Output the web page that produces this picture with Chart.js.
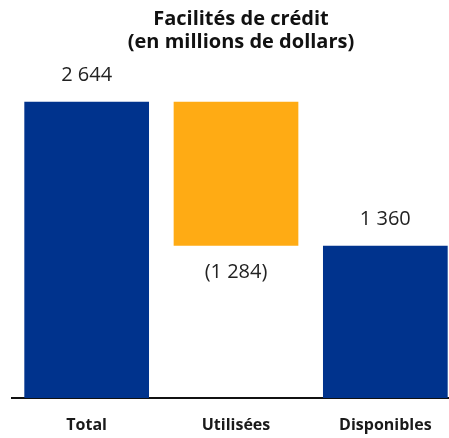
<!DOCTYPE html>
<html>
<head>
<meta charset="utf-8">
<script src="https://cdn.jsdelivr.net/npm/chart.js@4"></script>
<style>
  body { margin: 0; overflow: hidden; background: #fff; }
  #wrap { width: 449px; height: 438px; overflow: hidden; }
</style>
</head>
<body>
<div id="wrap"><canvas id="chart" width="460" height="438"></canvas></div>
<script>
const categories = ['Total', 'Utilisées', 'Disponibles']
const values = [2644, -1284, 1360]
const valueLabels = ['2 644', '(1 284)', '1 360']
const titleLines = ['Facilités de crédit', '(en millions de dollars)']
const colors = ['#00338D', '#FFAB14', '#00338D']

// floating bars for the waterfall
const ranges = [
  [0, values[0]],
  [values[0] + values[1], values[0]],
  [0, values[2]]
]

const labelPlugin = {
  id: 'labels',
  afterDatasetsDraw(chart) {
    const ctx = chart.ctx
    const meta = chart.getDatasetMeta(0)
    ctx.save()
    ctx.fillStyle = '#222'
    ctx.font = '20px "Open Sans"'
    ctx.textAlign = 'center'
    meta.data.forEach((bar, i) => {
      const top = Math.min(bar.y, bar.base)
      const bottom = Math.max(bar.y, bar.base)
      if (values[i] < 0) {
        ctx.textBaseline = 'top'
        ctx.fillText(valueLabels[i], bar.x, bottom + 17)
      } else {
        ctx.textBaseline = 'alphabetic'
        ctx.fillText(valueLabels[i], bar.x, top - 21)
      }
    })
    // title
    ctx.fillStyle = '#111'
    ctx.font = 'bold 20px "Open Sans"'
    ctx.textBaseline = 'alphabetic'
    ctx.fillText(titleLines[0], 241, 25)
    ctx.fillText(titleLines[1], 241, 48)
    ctx.restore()
  }
}

new Chart(document.querySelector('#chart'), {
  type: 'bar',
  data: {
    labels: categories,
    datasets: [{
      data: ranges,
      backgroundColor: colors,
      borderWidth: 0,
      barPercentage: 0.835,
      categoryPercentage: 1
    }]
  },
  options: {
    responsive: false,
    animation: false,
    layout: { padding: { top: 62, left: 12, right: 0, bottom: 0 } },
    scales: {
      x: {
        grid: { display: false, drawTicks: false },
        border: { display: true, color: '#111', width: 2 },
        ticks: {
          color: '#1a1a1a',
          font: { family: 'Open Sans', weight: 'bold', size: 16 },
          padding: 18
        },
        afterFit(scale) { scale.height = 40 }
      },
      y: {
        display: false,
        min: 0,
        max: 3000
      }
    },
    plugins: {
      legend: false,
      tooltip: { enabled: false }
    }
  },
  plugins: [labelPlugin]
});
</script>
</body>
</html>
